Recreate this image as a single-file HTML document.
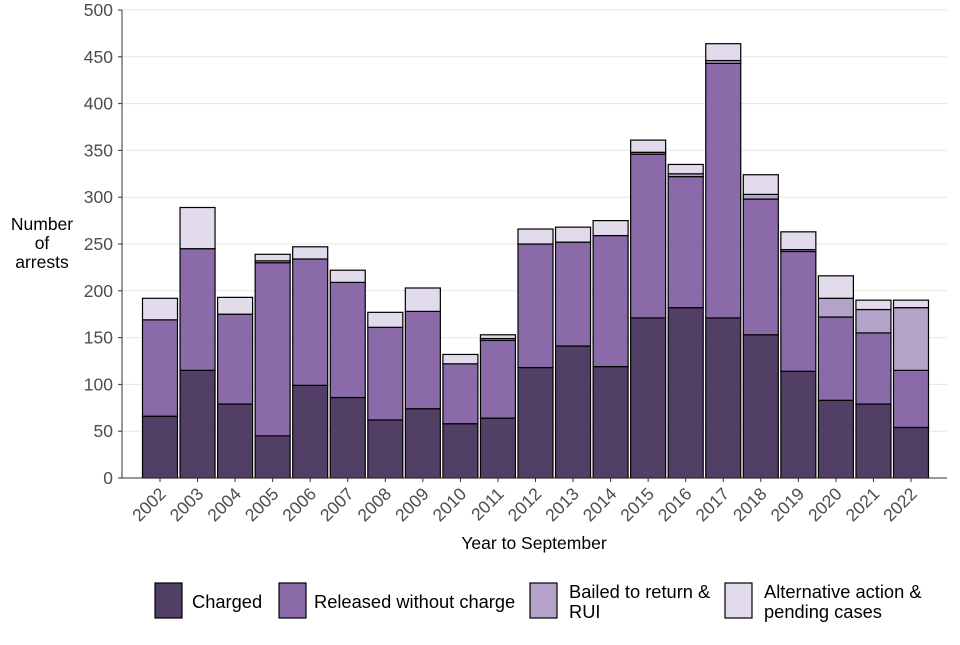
<!DOCTYPE html>
<html><head><meta charset="utf-8"><style>body{margin:0;background:#fff}svg{font-family:"Liberation Sans",sans-serif}</style></head><body>
<svg id="c" width="960" height="640"></svg>
<script>
const years=["2002","2003","2004","2005","2006","2007","2008","2009","2010","2011","2012","2013","2014","2015","2016","2017","2018","2019","2020","2021","2022"];
const charged=[66,115,79,45,99,86,62,74,58,64,118,141,119,171,182,171,153,114,83,79,54];
const released=[103,130,96,185,135,123,99,104,64,83,132,111,140,175,140,272,145,128,89,76,61];
const bailed=[0,0,0,2,0,0,0,0,0,2,0,0,0,2,3,3,5,2,20,25,67];
const alternative=[23,44,18,7,13,13,16,25,10,4,16,16,16,13,10,18,21,19,24,10,8];
const yTicks=[0,50,100,150,200,250,300,350,400,450,500];
const series=[charged,released,bailed,alternative];
const colors=["#523f66","#8a6aa8","#b3a3c9","#e2dbeb"];
const names=["Charged","Released without charge","Bailed to return &|RUI","Alternative action &|pending cases"];
const svg=document.getElementById('c');const NS="http://www.w3.org/2000/svg";
function mk(t,a,p){const e=document.createElementNS(NS,t);for(const k in a)e.setAttribute(k,a[k]);(p||svg).appendChild(e);return e;}
const x0=122,x1=947,yB=478,yT=10;
const y=v=>yB-(v/500)*(yB-yT);
const c0=160,c1=911;const step=(c1-c0)/(years.length-1);const xc=i=>c0+step*i;const bw=35;
yTicks.forEach(t=>{const g=mk('line',{x1:x0,x2:x1,y1:y(t),y2:y(t),stroke:'#e6e6e6'});
const l=mk('text',{x:x0-9,y:y(t)+6,'text-anchor':'end','font-size':17.5,fill:'#4d4d4d'});l.textContent=t;
mk('line',{x1:x0-4,x2:x0,y1:y(t),y2:y(t),stroke:'#333'});});
years.forEach((yr,i)=>{let base=0;series.forEach((s,k)=>{const v=s[i];if(v<=0){return;}const r=mk('rect',{x:xc(i)-bw/2,y:y(base+v),width:bw,height:y(base)-y(base+v),fill:colors[k],stroke:'#000','stroke-width':1.2});base+=v;});
mk('line',{x1:xc(i),x2:xc(i),y1:yB,y2:yB+4,stroke:'#333'});
const t=mk('text',{transform:`translate(${xc(i)+7},${yB+17}) rotate(-45)`,'text-anchor':'end','font-size':17.5,fill:'#4d4d4d'});t.textContent=yr;});
mk('line',{x1:x0,x2:x0,y1:yT,y2:yB,stroke:'#333'});mk('line',{x1:x0,x2:x1,y1:yB,y2:yB,stroke:'#333'});
const xt=mk('text',{x:534,y:549,'text-anchor':'middle','font-size':17.5,fill:'#000'});xt.textContent='Year to September';
["Number","of","arrests"].forEach((w,j)=>{const t=mk('text',{x:42,y:230+j*19,'text-anchor':'middle','font-size':17.5});t.textContent=w;});
const lx=[155,279,530,725],tx=[192,314,569,764];
names.forEach((n,k)=>{const r=mk('rect',{x:lx[k],y:583,width:27,height:35,fill:colors[k],stroke:'#000','stroke-width':1.2});
const parts=n.split('|');parts.forEach((p,j)=>{const t=mk('text',{x:tx[k],y:parts.length==1?608:598+j*20,'font-size':18.3});t.textContent=p;});});
</script></body></html>
